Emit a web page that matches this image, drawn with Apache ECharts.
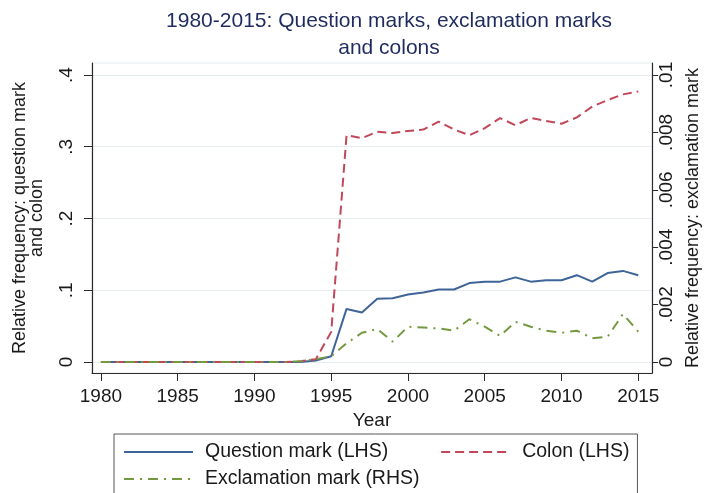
<!DOCTYPE html>
<html>
<head>
<meta charset="utf-8">
<script src="https://cdn.jsdelivr.net/npm/echarts@6/dist/echarts.min.js"></script>
<style>
  html, body { margin: 0; padding: 0; background: #fff; }
</style>
</head>
<body>
<div id="chart" style="width: 710px; height: 493px"></div>
<script>
// years on the x axis
const years = [1980, 1981, 1982, 1983, 1984, 1985, 1986, 1987, 1988, 1989,
  1990, 1991, 1992, 1993, 1994, 1995, 1996, 1997, 1998, 1999,
  2000, 2001, 2002, 2003, 2004, 2005, 2006, 2007, 2008, 2009,
  2010, 2011, 2012, 2013, 2014, 2015];

// question mark, left axis
const questionMark = [0, 0, 0, 0, 0, 0, 0, 0, 0, 0,
  0, 0, 0, 0, 0.002, 0.008, 0.074, 0.069, 0.088, 0.089,
  0.094, 0.097, 0.101, 0.101, 0.110, 0.112, 0.112, 0.118, 0.112, 0.114,
  0.114, 0.121, 0.112, 0.124, 0.127, 0.121];

// colon, left axis
const colon = [0, 0, 0, 0, 0, 0, 0, 0, 0, 0,
  0, 0, 0, 0.001, 0.004, 0.042, 0.316, 0.312, 0.321, 0.319,
  0.322, 0.324, 0.335, 0.324, 0.316, 0.326, 0.340, 0.330, 0.340, 0.336,
  0.332, 0.341, 0.356, 0.365, 0.373, 0.377];

// exclamation mark, right axis
const exclamationMark = [0, 0, 0, 0, 0, 0, 0, 0, 0, 0,
  0, 0, 0, 0.00003, 0.0001, 0.0002, 0.00065, 0.00102, 0.00115, 0.00071,
  0.00123, 0.0012, 0.00117, 0.00109, 0.00149, 0.00123, 0.00091, 0.0014, 0.00123, 0.00109,
  0.00102, 0.00109, 0.00083, 0.00088, 0.00167, 0.00106];

// tick labels
const xTicks = [1980, 1985, 1990, 1995, 2000, 2005, 2010, 2015];
const leftTicks = [0, 0.1, 0.2, 0.3, 0.4];
const rightTicks = [0, 0.002, 0.004, 0.006, 0.008, 0.01];

const font = "'Liberation Sans', Arial, sans-serif";
const axisColor = "#2b2b2b";
const textColor = "#1a1a1a";

// stata style: drop the leading zero
function stripZero(v) {
  if (v === 0) return "0";
  return String(v).replace(/^0/, "");
}

function pairs(values) {
  return years.map(function (y, i) { return [y, values[i]]; });
}

const myChart = echarts.init(document.getElementById("chart"));

const option = {
  backgroundColor: "#fff",
  animation: false,
  title: {
    text: "1980-2015: Question marks, exclamation marks\nand colons",
    left: 384,
    top: 3,
    textAlign: "center",
    textStyle: {
      color: "#1f2b5e",
      fontFamily: font,
      fontSize: 21,
      fontWeight: "normal",
      lineHeight: 27,
    },
  },
  // plot region, the border gives the faint top line
  grid: {
    left: 92,
    right: 48,
    top: 63,
    bottom: 120,
    show: true,
    borderColor: "#e4ebee",
    borderWidth: 1,
  },
  legend: [
    {
      left: 114,
      top: 434,
      padding: [8, 8, 40, 9],
      borderColor: "#555",
      borderWidth: 1,
      itemWidth: 69,
      itemHeight: 12,
      itemGap: 52,
      // hide the symbol, keep the line
      itemStyle: { opacity: 0 },
      textStyle: {
        color: textColor,
        fontFamily: font,
        fontSize: 19.5,
        padding: [0, 0, 0, 7],
      },
      data: ["Question mark (LHS)", "Colon (LHS)"],
    },
    {
      left: 123,
      top: 469,
      padding: 0,
      itemWidth: 72,
      itemHeight: 12,
      itemStyle: { opacity: 0 },
      textStyle: {
        color: textColor,
        fontFamily: font,
        fontSize: 19.5,
        padding: [0, 0, 0, 4],
      },
      data: ["Exclamation mark (RHS)"],
    },
  ],
  xAxis: {
    type: "value",
    min: 1979.42,
    max: 2015.9,
    name: "Year",
    nameLocation: "middle",
    nameGap: 35,
    nameTextStyle: { color: textColor, fontFamily: font, fontSize: 19 },
    axisLine: { show: true, onZero: false, lineStyle: { color: axisColor, width: 1.2 } },
    axisTick: { show: true, length: 8, customValues: xTicks, lineStyle: { color: axisColor } },
    axisLabel: {
      customValues: xTicks,
      margin: 14,
      color: textColor,
      fontFamily: font,
      fontSize: 19,
      formatter: function (v) { return String(v); },
    },
    splitLine: { show: false },
  },
  yAxis: [
    {
      type: "value",
      position: "left",
      min: -0.0153,
      max: 0.4167,
      name: "Relative frequency: question mark\nand colon",
      nameLocation: "middle",
      nameGap: 46,
      nameTextStyle: { color: textColor, fontFamily: font, fontSize: 18, lineHeight: 17 },
      axisLine: { show: true, lineStyle: { color: axisColor, width: 1.2 } },
      axisTick: { show: true, length: 8, customValues: leftTicks, lineStyle: { color: axisColor } },
      axisLabel: {
        customValues: leftTicks,
        rotate: 90,
        margin: 16,
        color: textColor,
        fontFamily: font,
        fontSize: 19,
        formatter: stripZero,
      },
      // light horizontal grid lines
      splitLine: { show: true, lineStyle: { color: "#e6edf0", width: 1 } },
    },
    {
      type: "value",
      position: "right",
      min: -0.000383,
      max: 0.010418,
      name: "Relative frequency: exclamation mark",
      nameLocation: "middle",
      nameGap: 30,
      nameTextStyle: { color: textColor, fontFamily: font, fontSize: 18 },
      axisLine: { show: true, lineStyle: { color: axisColor, width: 1.2 } },
      axisTick: { show: true, length: 6, customValues: rightTicks, lineStyle: { color: axisColor } },
      axisLabel: {
        customValues: rightTicks,
        rotate: 90,
        margin: 5,
        color: textColor,
        fontFamily: font,
        fontSize: 19,
        formatter: stripZero,
      },
      splitLine: { show: false },
    },
  ],
  series: [
    {
      name: "Question mark (LHS)",
      type: "line",
      yAxisIndex: 0,
      symbol: "none",
      lineStyle: { color: "#3f6598", width: 2 },
      itemStyle: { color: "#3f6598" },
      data: pairs(questionMark),
    },
    {
      name: "Colon (LHS)",
      type: "line",
      yAxisIndex: 0,
      symbol: "none",
      lineStyle: { color: "#c0485a", width: 2, type: [9, 5] },
      itemStyle: { color: "#c0485a" },
      data: pairs(colon),
    },
    {
      name: "Exclamation mark (RHS)",
      type: "line",
      yAxisIndex: 1,
      symbol: "none",
      lineStyle: { color: "#74993f", width: 2, type: [10, 6, 2, 6] },
      itemStyle: { color: "#74993f" },
      data: pairs(exclamationMark),
    },
  ],
};

myChart.setOption(option);
window.addEventListener("resize", function () {
  myChart.resize();
});
</script>
</body>
</html>
